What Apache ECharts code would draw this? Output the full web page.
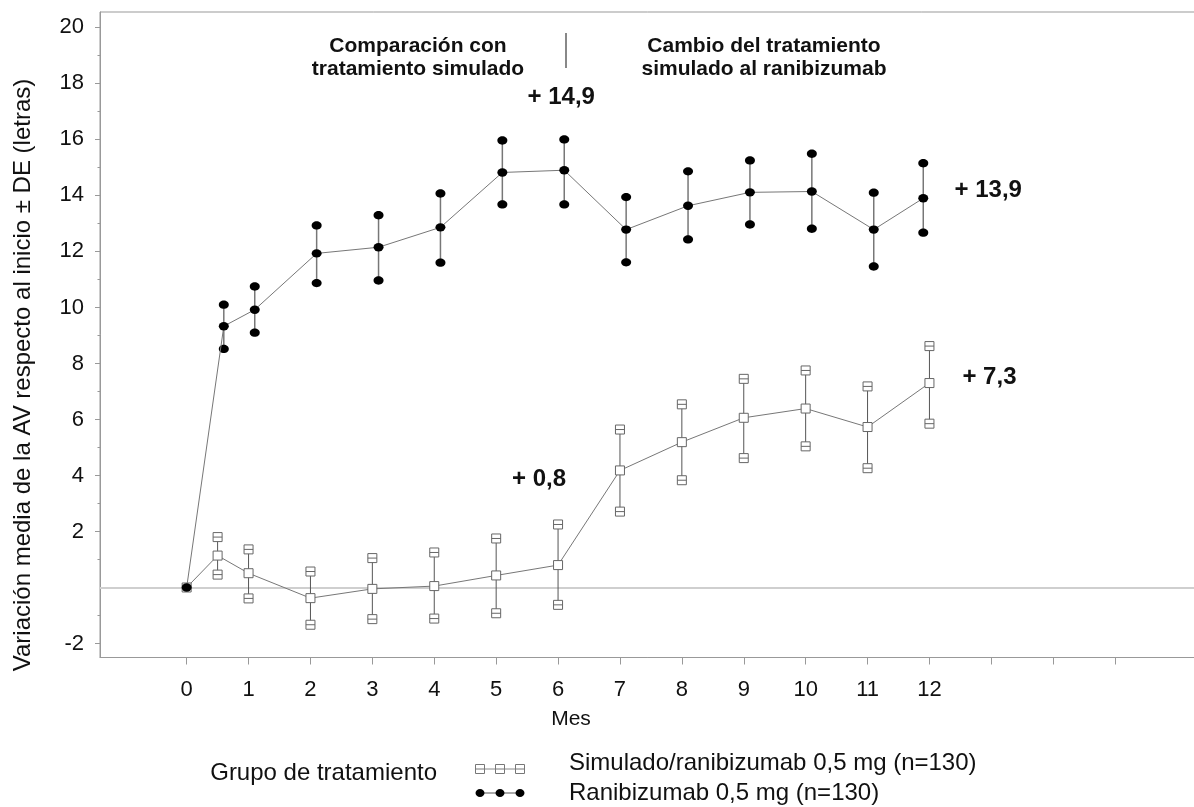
<!DOCTYPE html>
<html>
<head>
<meta charset="utf-8">
<script src="https://cdn.jsdelivr.net/npm/echarts@6/dist/echarts.min.js"></script>
<style>
  html, body { margin: 0; padding: 0; background: #fff; }
  #chart { width: 1194px; height: 807px; }
</style>
</head>
<body>
<div id="chart"></div>
<script>
// Month of each visit (x position on the axis) for the two treatment groups
const monthsSim = [0, 0.5, 1, 2, 3, 4, 5, 6, 7, 8, 9, 10, 11, 12];
const monthsRan = [0, 0.6, 1.1, 2.1, 3.1, 4.1, 5.1, 6.1, 7.1, 8.1, 9.1, 10.1, 11.1, 11.9];

// Simulado/ranibizumab 0,5 mg: mean change and mean ± SD
const simMean  = [0, 1.14, 0.51, -0.38, -0.05, 0.05, 0.43, 0.8, 4.18, 5.19, 6.06, 6.39, 5.73, 7.3];
const simUpper = [null, 1.8, 1.36, 0.57, 1.05, 1.25, 1.75, 2.25, 5.64, 6.54, 7.45, 7.75, 7.18, 8.62];
const simLower = [null, 0.46, -0.39, -1.33, -1.13, -1.11, -0.92, -0.62, 2.71, 3.83, 4.62, 5.04, 4.26, 5.85];

// Ranibizumab 0,5 mg: mean change and mean ± SD
const ranMean  = [0, 9.33, 9.92, 11.93, 12.15, 12.86, 14.82, 14.9, 12.78, 13.63, 14.11, 14.14, 12.78, 13.9];
const ranUpper = [null, 10.1, 10.75, 12.93, 13.29, 14.07, 15.96, 16.0, 13.94, 14.86, 15.25, 15.49, 14.1, 15.15];
const ranLower = [null, 8.52, 9.1, 10.87, 10.96, 11.6, 13.68, 13.68, 11.61, 12.43, 12.96, 12.81, 11.46, 12.67];

// Axis ticks and labels
const xTickValues  = [0, 1, 2, 3, 4, 5, 6, 7, 8, 9, 10, 11, 12, 13, 14, 15];
const xLabelValues = [0, 1, 2, 3, 4, 5, 6, 7, 8, 9, 10, 11, 12];
const yLabelValues = [-2, 2, 4, 6, 8, 10, 12, 14, 16, 18, 20];
const yMinorValues = [-1, 1, 3, 5, 7, 9, 11, 13, 15, 17, 19];

// Points that carry a value annotation: index -> label offset
const simAnnot = { 7: [-19, -86], 13: [60, -6] };
const ranAnnot = { 7: [-3, -73], 13: [65, -8] };

const FONT = 'Liberation Sans, Arial, sans-serif';
const fmtChange = v => '+ ' + v.toFixed(1).replace('.', ',');

function meanData(months, means, annot) {
  return months.map((m, i) => {
    const item = { value: [m, means[i]] };
    if (annot[i]) {
      item.label = {
        show: true, position: 'inside', offset: annot[i],
        formatter: fmtChange(means[i]),
        fontFamily: FONT, fontWeight: 'bold', fontSize: 24, color: '#111'
      };
    }
    return item;
  });
}

function errData(months, lower, upper) {
  const out = [];
  months.forEach((m, i) => {
    if (lower[i] != null && upper[i] != null) out.push([m, lower[i], upper[i]]);
  });
  return out;
}

function renderSimErr(params, api) {
  const x = api.value(0);
  const lo = api.coord([x, api.value(1)]);
  const hi = api.coord([x, api.value(2)]);
  const s = 9;
  const children = [{
    type: 'line',
    shape: { x1: hi[0], y1: hi[1], x2: lo[0], y2: lo[1] },
    style: { stroke: '#555', lineWidth: 1 }
  }];
  [hi, lo].forEach(p => {
    children.push({
      type: 'rect',
      shape: { x: p[0] - s / 2, y: p[1] - s / 2, width: s, height: s },
      style: { fill: '#fff', stroke: '#666', lineWidth: 1 }
    });
    children.push({
      type: 'line',
      shape: { x1: p[0] - s / 2, y1: p[1], x2: p[0] + s / 2, y2: p[1] },
      style: { stroke: '#666', lineWidth: 1 }
    });
  });
  return { type: 'group', children };
}

function renderRanErr(params, api) {
  const x = api.value(0);
  const lo = api.coord([x, api.value(1)]);
  const hi = api.coord([x, api.value(2)]);
  const children = [{
    type: 'line',
    shape: { x1: hi[0], y1: hi[1], x2: lo[0], y2: lo[1] },
    style: { stroke: '#777', lineWidth: 1.5 }
  }];
  [hi, lo].forEach(p => {
    children.push({
      type: 'ellipse',
      shape: { cx: p[0], cy: p[1], rx: 5, ry: 4.2 },
      style: { fill: '#000' }
    });
  });
  return { type: 'group', children };
}

const chart = echarts.init(document.getElementById('chart'), null, { renderer: 'canvas' });

chart.setOption({
  animation: false,
  backgroundColor: '#fff',
  grid: {
    left: 100, top: 12, width: 1108, height: 645.5,
    outerBoundsMode: 'none', containLabel: false,
    show: true, borderColor: '#999', borderWidth: 1, backgroundColor: 'transparent'
  },
  xAxis: {
    type: 'value', min: -1.4, max: 16.5,
    axisLine: { show: true, onZero: false, lineStyle: { color: '#999', width: 1 } },
    axisTick: { show: true, customValues: xTickValues, length: 7, lineStyle: { color: '#999' } },
    axisLabel: { customValues: xLabelValues, margin: 21, fontFamily: FONT, fontSize: 22, color: '#111' },
    splitLine: { show: false }
  },
  yAxis: [{
    type: 'value', min: -2.5, max: 20.55,
    axisLine: { show: true, onZero: false, lineStyle: { color: '#999', width: 1 } },
    axisTick: { show: true, customValues: yLabelValues, length: 5, lineStyle: { color: '#999' } },
    axisLabel: { customValues: yLabelValues, margin: 16, fontFamily: FONT, fontSize: 22, color: '#111' },
    splitLine: { show: false }
  }, {
    type: 'value', min: -2.5, max: 20.55, position: 'left', offset: 0,
    axisLine: { show: false, onZero: false },
    axisTick: { show: true, customValues: yMinorValues, length: 2.5, lineStyle: { color: '#999' } },
    axisLabel: { show: false },
    splitLine: { show: false }
  }],
  series: [
    {
      name: 'Simulado/ranibizumab 0,5 mg (n=130)',
      type: 'custom', renderItem: renderSimErr,
      data: errData(monthsSim, simLower, simUpper), z: 3, silent: true
    },
    {
      name: 'Simulado/ranibizumab 0,5 mg (n=130)',
      type: 'line', data: meanData(monthsSim, simMean, simAnnot),
      symbol: 'rect', symbolSize: 9, showAllSymbol: true,
      itemStyle: { color: '#fff', borderColor: '#666', borderWidth: 1 },
      lineStyle: { color: '#777', width: 1 },
      z: 4, silent: true,
      markLine: {
        silent: true, symbol: 'none', label: { show: false },
        lineStyle: { color: '#cfcfcf', width: 2, type: 'solid' },
        data: [{ yAxis: 0 }], z: 1
      }
    },
    {
      name: 'Ranibizumab 0,5 mg (n=130)',
      type: 'custom', renderItem: renderRanErr,
      data: errData(monthsRan, ranLower, ranUpper), z: 5, silent: true
    },
    {
      name: 'Ranibizumab 0,5 mg (n=130)',
      type: 'line', data: meanData(monthsRan, ranMean, ranAnnot),
      symbol: 'circle', symbolSize: [10, 8.4], showAllSymbol: true,
      itemStyle: { color: '#000' },
      lineStyle: { color: '#777', width: 1 },
      z: 6, silent: true
    }
  ],
  graphic: [
    // period headings
    {
      type: 'text', x: 418, y: 35,
      style: {
        text: 'Comparación con\ntratamiento simulado',
        align: 'center', verticalAlign: 'top', fontFamily: FONT, fontWeight: 'bold', fontSize: 21,
        lineHeight: 23, fill: '#111'
      }
    },
    {
      type: 'line', shape: { x1: 566, y1: 33, x2: 566, y2: 68 },
      style: { stroke: '#888', lineWidth: 2 }
    },
    {
      type: 'text', x: 764, y: 35,
      style: {
        text: 'Cambio del tratamiento\nsimulado al ranibizumab',
        align: 'center', verticalAlign: 'top', fontFamily: FONT, fontWeight: 'bold', fontSize: 21,
        lineHeight: 23, fill: '#111'
      }
    },
    // y axis title
    {
      type: 'text', x: 23, y: 375, rotation: Math.PI / 2,
      style: {
        text: 'Variación media de la AV respecto al inicio ± DE (letras)',
        align: 'center', verticalAlign: 'middle',
        fontFamily: FONT, fontSize: 24, fill: '#111'
      }
    },
    // x axis title
    {
      type: 'text', x: 571, y: 719,
      style: {
        text: 'Mes', align: 'center', verticalAlign: 'middle',
        fontFamily: FONT, fontSize: 21, fill: '#111'
      }
    },
    // legend
    {
      type: 'text', x: 437, y: 773,
      style: {
        text: 'Grupo de tratamiento', align: 'right', verticalAlign: 'middle',
        fontFamily: FONT, fontSize: 24, fill: '#111'
      }
    },
    {
      type: 'line', shape: { x1: 480, y1: 769, x2: 520, y2: 769 },
      style: { stroke: '#888', lineWidth: 1 }
    },
    ...[480, 500, 520].map(cx => ({
      type: 'group', children: [
        { type: 'rect', shape: { x: cx - 4.5, y: 764.5, width: 9, height: 9 },
          style: { fill: '#fff', stroke: '#777', lineWidth: 1 } },
        { type: 'line', shape: { x1: cx - 4.5, y1: 769, x2: cx + 4.5, y2: 769 },
          style: { stroke: '#777', lineWidth: 1 } }
      ]
    })),
    {
      type: 'line', shape: { x1: 480, y1: 793, x2: 520, y2: 793 },
      style: { stroke: '#555', lineWidth: 1 }
    },
    ...[480, 500, 520].map(cx => ({
      type: 'ellipse', shape: { cx: cx, cy: 793, rx: 4.5, ry: 4 },
      style: { fill: '#000' }
    })),
    {
      type: 'text', x: 569, y: 763,
      style: {
        text: 'Simulado/ranibizumab 0,5 mg (n=130)', verticalAlign: 'middle',
        fontFamily: FONT, fontSize: 24, fill: '#111'
      }
    },
    {
      type: 'text', x: 569, y: 793,
      style: {
        text: 'Ranibizumab 0,5 mg (n=130)', verticalAlign: 'middle',
        fontFamily: FONT, fontSize: 24, fill: '#111'
      }
    }
  ]
});
</script>
</body>
</html>
